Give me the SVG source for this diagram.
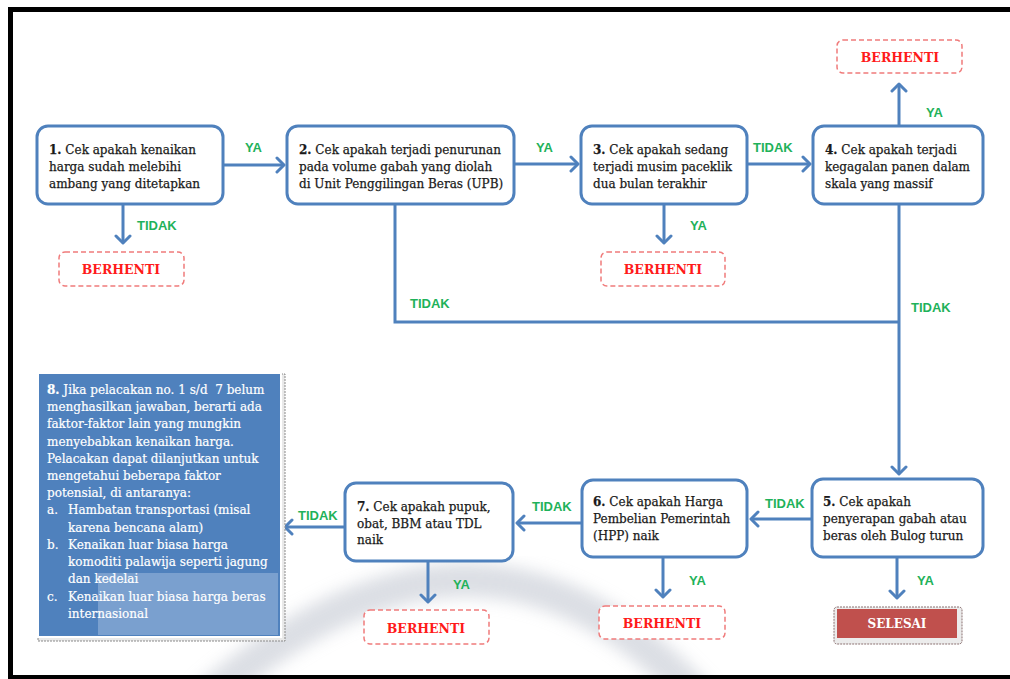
<svg xmlns="http://www.w3.org/2000/svg" width="1010" height="679" viewBox="0 0 1010 679">
<style>
.box{fill:#fff;stroke:#4f81bd;stroke-width:3}
.t{font-family:"DejaVu Serif","Liberation Serif",serif;font-size:12px;fill:#1a1a1a;stroke:#1a1a1a;stroke-width:0.25}
.b{font-weight:bold}
.stop{fill:#fff;stroke:#f07b7b;stroke-width:1.5;stroke-dasharray:5 3}
.st{font-family:"DejaVu Serif","Liberation Serif",serif;font-size:12.5px;font-weight:bold;fill:#ff1a1a;text-anchor:middle}
.lb{font-family:"Liberation Sans",Arial,sans-serif;font-size:13px;font-weight:bold;fill:#1fb25a}
.c{fill:none;stroke:#4f81bd;stroke-width:3}
.w{font-family:"DejaVu Serif","Liberation Serif",serif;font-size:12px;fill:#fff;stroke:#fff;stroke-width:0.2}
</style>
<defs>
<marker id="ah" markerUnits="userSpaceOnUse" markerWidth="16" markerHeight="18" viewBox="0 0 16 18" refX="9" refY="9" orient="auto">
<path d="M2,2 L9,9 L2,16" fill="none" stroke="#4f81bd" stroke-width="3" stroke-linecap="round" stroke-linejoin="round"/>
</marker>
<filter id="blur" x="-20%" y="-20%" width="140%" height="140%"><feGaussianBlur stdDeviation="8"/></filter>
</defs>
<rect width="1010" height="679" fill="#fff"/>
<path d="M205,700 Q480,460 700,700" fill="none" stroke="#bfc4cf" stroke-width="34" opacity="0.55" filter="url(#blur)"/>
<rect x="10.5" y="9.5" width="1010" height="668" fill="none" stroke="#000" stroke-width="5"/>

<g id="connectors">
<line class="c" x1="223" y1="165" x2="284" y2="165" marker-end="url(#ah)"/>
<line class="c" x1="123" y1="204" x2="123" y2="243" marker-end="url(#ah)"/>
<line class="c" x1="514" y1="164" x2="578" y2="164" marker-end="url(#ah)"/>
<line class="c" x1="747" y1="164" x2="810" y2="164" marker-end="url(#ah)"/>
<line class="c" x1="664" y1="204" x2="664" y2="243" marker-end="url(#ah)"/>
<line class="c" x1="899" y1="126" x2="899" y2="84" marker-end="url(#ah)"/>
<polyline class="c" points="395,204 395,322 899,322"/>
<line class="c" x1="899" y1="204" x2="899" y2="474" marker-end="url(#ah)"/>
<line class="c" x1="812" y1="519" x2="751" y2="519" marker-end="url(#ah)"/>
<line class="c" x1="897" y1="557" x2="897" y2="598" marker-end="url(#ah)"/>
<line class="c" x1="582" y1="523" x2="517" y2="523" marker-end="url(#ah)"/>
<line class="c" x1="663" y1="557" x2="663" y2="597" marker-end="url(#ah)"/>
<line class="c" x1="345" y1="527" x2="285" y2="527" marker-end="url(#ah)"/>
<line class="c" x1="428" y1="562" x2="428" y2="602" marker-end="url(#ah)"/>
<text class="lb" x="245" y="152">YA</text>
<text class="lb" x="137" y="230">TIDAK</text>
<text class="lb" x="536" y="152">YA</text>
<text class="lb" x="753" y="152">TIDAK</text>
<text class="lb" x="690" y="230">YA</text>
<text class="lb" x="926" y="117">YA</text>
<text class="lb" x="410" y="308">TIDAK</text>
<text class="lb" x="911" y="312">TIDAK</text>
<text class="lb" x="765" y="508">TIDAK</text>
<text class="lb" x="917" y="585">YA</text>
<text class="lb" x="532" y="511">TIDAK</text>
<text class="lb" x="689" y="585">YA</text>
<text class="lb" x="298" y="520">TIDAK</text>
<text class="lb" x="453" y="589">YA</text>
</g>

<g id="n1">
<rect class="box" x="37" y="126" width="186" height="78" rx="11"/>
<text class="t" x="49" y="154"><tspan class="b">1.</tspan> Cek apakah kenaikan</text>
<text class="t" x="49" y="171">harga sudah melebihi</text>
<text class="t" x="49" y="188">ambang yang ditetapkan</text>
</g>
<g id="n2">
<rect class="box" x="287" y="126" width="227" height="78" rx="11"/>
<text class="t" x="299" y="154"><tspan class="b">2.</tspan> Cek apakah terjadi penurunan</text>
<text class="t" x="299" y="171">pada volume gabah yang diolah</text>
<text class="t" x="299" y="188">di Unit Penggilingan Beras (UPB)</text>
</g>
<g id="n3">
<rect class="box" x="581" y="126" width="166" height="78" rx="11"/>
<text class="t" x="593" y="154"><tspan class="b">3.</tspan> Cek apakah sedang</text>
<text class="t" x="593" y="171">terjadi musim paceklik</text>
<text class="t" x="593" y="188">dua bulan terakhir</text>
</g>
<g id="n4">
<rect class="box" x="813" y="126" width="170" height="78" rx="11"/>
<text class="t" x="825" y="154"><tspan class="b">4.</tspan> Cek apakah terjadi</text>
<text class="t" x="825" y="171">kegagalan panen dalam</text>
<text class="t" x="825" y="188">skala yang massif</text>
</g>
<g id="n5">
<rect class="box" x="812" y="479" width="171" height="78" rx="11"/>
<text class="t" x="823" y="506"><tspan class="b">5.</tspan> Cek apakah</text>
<text class="t" x="823" y="523">penyerapan gabah atau</text>
<text class="t" x="823" y="540">beras oleh Bulog turun</text>
</g>
<g id="n6">
<rect class="box" x="582" y="480" width="165" height="77" rx="11"/>
<text class="t" x="593" y="506"><tspan class="b">6.</tspan> Cek apakah Harga</text>
<text class="t" x="593" y="523">Pembelian Pemerintah</text>
<text class="t" x="593" y="540">(HPP) naik</text>
</g>
<g id="n7">
<rect class="box" x="345" y="483" width="168" height="78" rx="11"/>
<text class="t" x="357" y="511"><tspan class="b">7.</tspan> Cek apakah pupuk,</text>
<text class="t" x="357" y="528">obat, BBM atau TDL</text>
<text class="t" x="357" y="544">naik</text>
</g>
<g id="n8">
<rect x="38" y="374" width="247" height="267" fill="#e9e9e9" stroke="#8a8a8a" stroke-width="1" stroke-dasharray="2 1"/>
<rect x="37" y="372" width="245" height="266" fill="#fff"/>
<rect x="39" y="374" width="241" height="262" fill="#4f81bd"/>
<rect x="98" y="573" width="180" height="62" fill="#7aa0cf"/>
<text class="w" x="47" y="394"><tspan class="b">8.</tspan> Jika pelacakan no. 1 s/d &#160;7 belum</text>
<text class="w" x="47" y="411">menghasilkan jawaban, berarti ada</text>
<text class="w" x="47" y="428">faktor-faktor lain yang mungkin</text>
<text class="w" x="47" y="446">menyebabkan kenaikan harga.</text>
<text class="w" x="47" y="463">Pelacakan dapat dilanjutkan untuk</text>
<text class="w" x="47" y="480">mengetahui beberapa faktor</text>
<text class="w" x="47" y="497">potensial, di antaranya:</text>
<text class="w" x="47" y="514">a.</text>
<text class="w" x="68" y="514">Hambatan transportasi (misal</text>
<text class="w" x="68" y="532">karena bencana alam)</text>
<text class="w" x="47" y="549">b.</text>
<text class="w" x="68" y="549">Kenaikan luar biasa harga</text>
<text class="w" x="68" y="566">komoditi palawija seperti jagung</text>
<text class="w" x="68" y="583">dan kedelai</text>
<text class="w" x="47" y="601">c.</text>
<text class="w" x="68" y="601">Kenaikan luar biasa harga beras</text>
<text class="w" x="68" y="618">internasional</text>
</g>

<g id="stop1"><rect class="stop" x="59" y="252" width="125" height="34" rx="6"/><text class="st" x="121" y="274">BERHENTI</text></g>
<g id="stop3"><rect class="stop" x="601" y="252" width="124" height="34" rx="6"/><text class="st" x="663" y="274">BERHENTI</text></g>
<g id="stop4"><rect class="stop" x="837" y="40" width="125" height="33" rx="6"/><text class="st" x="900" y="62">BERHENTI</text></g>
<g id="stop7"><rect class="stop" x="364" y="610" width="125" height="34" rx="6"/><text class="st" x="426" y="633">BERHENTI</text></g>
<g id="stop6"><rect class="stop" x="599" y="606" width="126" height="33" rx="6"/><text class="st" x="662" y="628">BERHENTI</text></g>
<g id="selesai">
<rect x="834" y="607" width="128" height="37" rx="3" fill="#ececec" stroke="#8a7070" stroke-width="1" stroke-dasharray="2 1"/>
<rect x="837" y="609" width="120" height="29" fill="#c0504d"/>
<text x="897" y="628" font-family="DejaVu Serif,Liberation Serif,serif" font-size="12" font-weight="bold" fill="#fff" text-anchor="middle">SELESAI</text>
</g>
</svg>
